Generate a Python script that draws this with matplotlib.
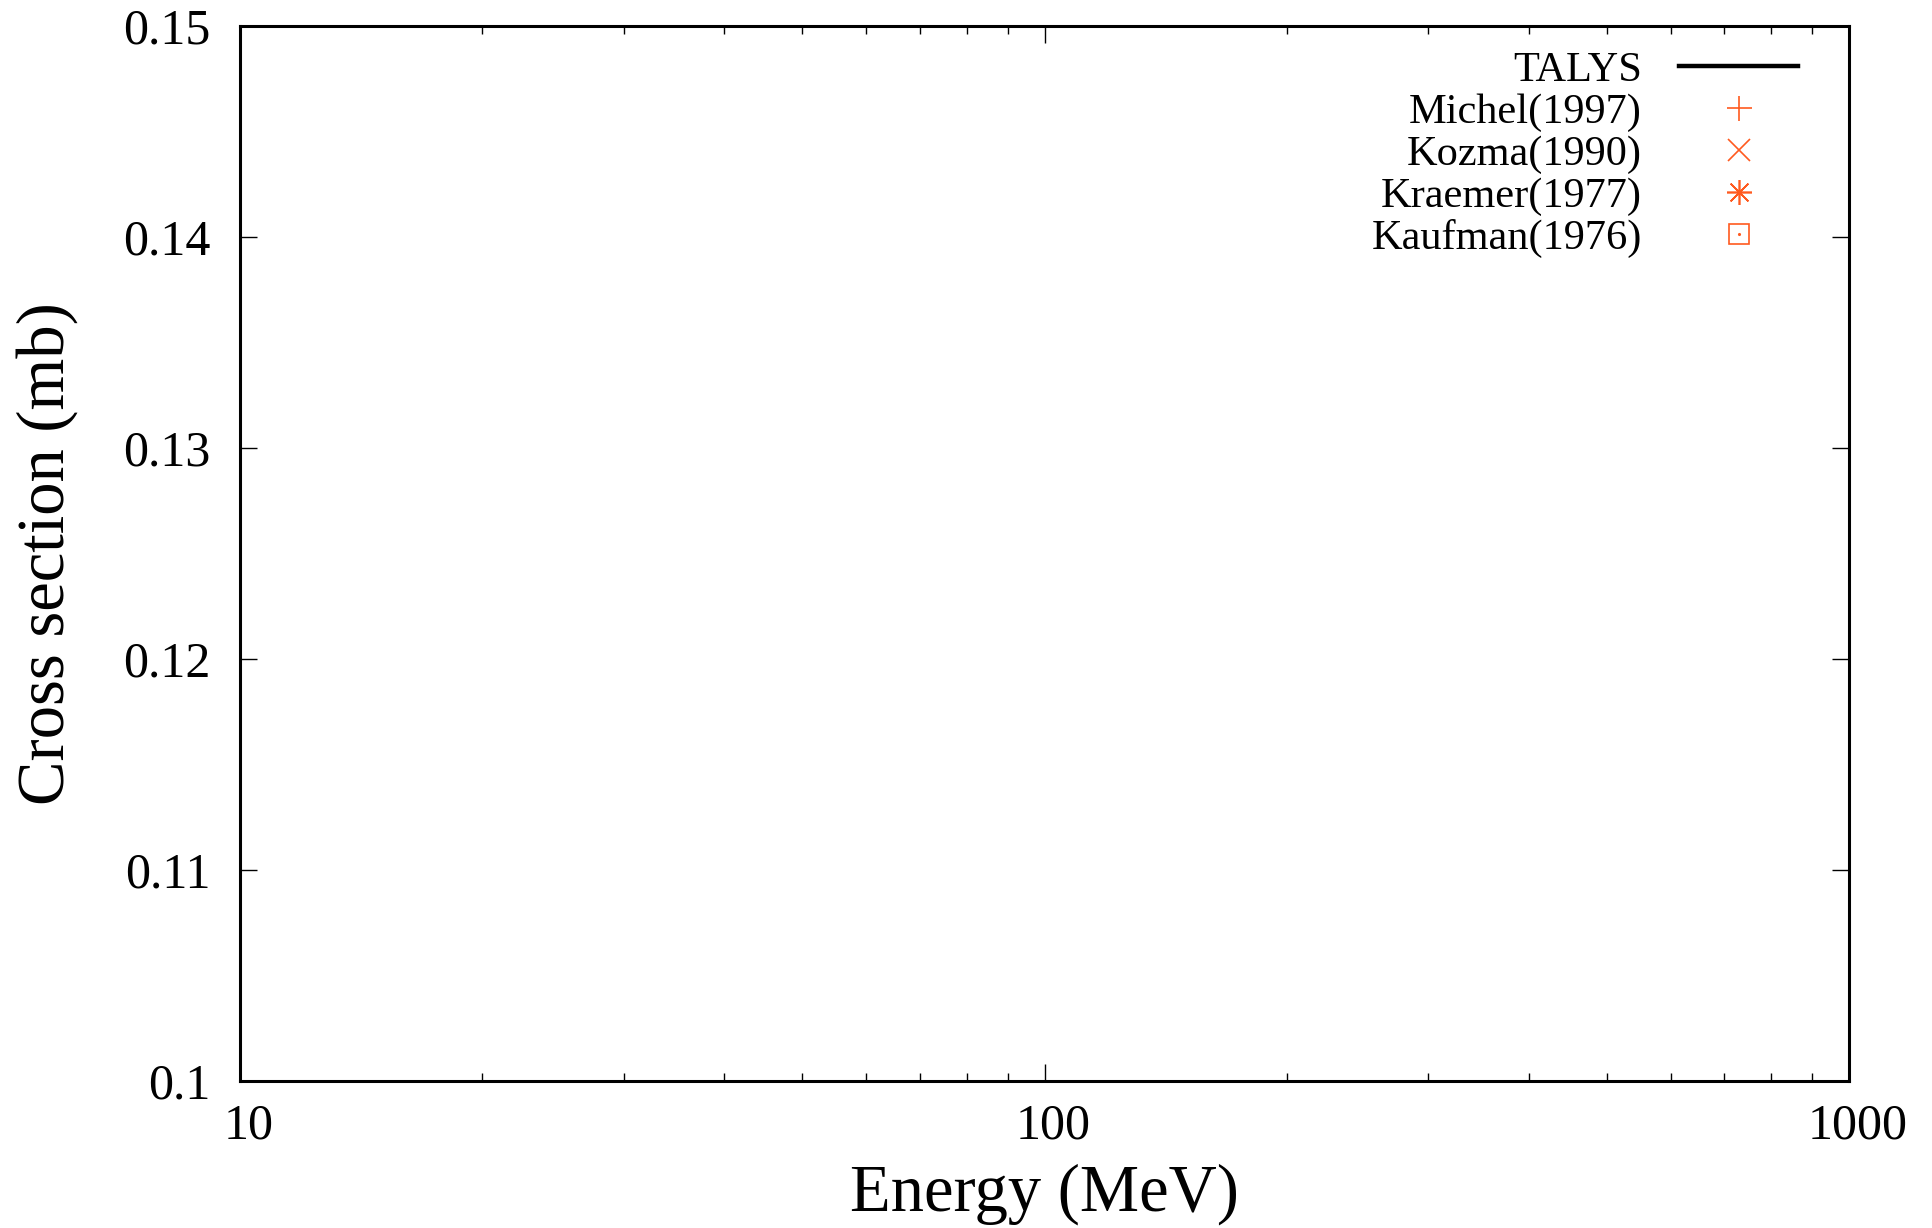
import numpy as np
import matplotlib.pyplot as plt
from matplotlib.transforms import ScaledTranslation
from matplotlib.ticker import FixedLocator, FuncFormatter, LogLocator, NullFormatter

plt.rcParams['font.family'] = ['Liberation Serif', 'DejaVu Serif']

# Data (the reference shows no data points inside the plotted window)
talys_e = []
talys_xs = []
michel_e = []
michel_xs = []
kozma_e = []
kozma_xs = []
kraemer_e = []
kraemer_xs = []
kaufman_e = []
kaufman_xs = []

x_range = [10, 1000]
x_ticks = [10, 100, 1000]
y_range = [0.1, 0.15]
y_ticks = [0.1, 0.11, 0.12, 0.13, 0.14, 0.15]

exp_color = '#ff5a1f'

fig = plt.figure(figsize=(19.33, 12.28), dpi=100)
ax = fig.add_axes([240 / 1933, 1 - 1081 / 1228, (1849 - 240) / 1933, (1081 - 26) / 1228])

l_talys, = ax.plot(talys_e, talys_xs, color='black', lw=3.2, label='TALYS')
l_michel, = ax.plot(michel_e, michel_xs, ls='none', marker='+', ms=18, mew=1.2,
                    color=exp_color, label='Michel(1997)')
l_kozma, = ax.plot(kozma_e, kozma_xs, ls='none', marker='x', ms=16, mew=1.2,
                   color=exp_color, label='Kozma(1990)')
l_kraemer, = ax.plot(kraemer_e, kraemer_xs, ls='none', marker=(8, 2, 0), ms=18, mew=1.2,
                     color=exp_color, label='Kraemer(1977)')
l_kaufman, = ax.plot(kaufman_e, kaufman_xs, ls='none', marker='s', ms=15, mew=1.2,
                     mfc='none', color=exp_color, label='Kaufman(1976)')
l_kaufdot, = ax.plot(kaufman_e, kaufman_xs, ls='none', marker='.', ms=2.5,
                     color=exp_color)

ax.set_xscale('log')
ax.set_xlim(x_range)
ax.set_ylim(y_range)
ax.xaxis.set_major_locator(FixedLocator(x_ticks))
ax.xaxis.set_major_formatter(FuncFormatter(lambda v, p: '%g' % v))
ax.xaxis.set_minor_locator(LogLocator(base=10, subs=np.arange(2, 10)))
ax.xaxis.set_minor_formatter(NullFormatter())
ax.yaxis.set_major_locator(FixedLocator(y_ticks))
ax.yaxis.set_major_formatter(FuncFormatter(lambda v, p: '%g' % round(v, 4)))

ax.tick_params(which='both', direction='in', top=True, right=True, width=1.0,
               labelsize=36, colors='black')
ax.tick_params(which='major', length=12)
ax.tick_params(axis='x', which='major', pad=16)
ax.tick_params(axis='y', which='major', pad=21)
ax.tick_params(which='minor', length=6)
for s in ax.spines.values():
    s.set_linewidth(2.2)

# gnuplot puts the x tick labels a little to the right of the tick
shift = ScaledTranslation(9 / 100, 0, fig.dpi_scale_trans)
for lbl in ax.get_xticklabels():
    lbl.set_transform(lbl.get_transform() + shift)

ax.set_xlabel('Energy (MeV)', fontsize=48, labelpad=10)
ax.set_ylabel('Cross section (mb)', fontsize=48, labelpad=33)

leg = ax.legend([l_talys, l_michel, l_kozma, l_kraemer, (l_kaufman, l_kaufdot)],
                ['TALYS', 'Michel(1997)', 'Kozma(1990)', 'Kraemer(1977)', 'Kaufman(1976)'],
                loc='upper right', frameon=False, markerfirst=False, fontsize=30.5,
                handlelength=2.8, handletextpad=0.88, labelspacing=0.08,
                borderaxespad=0.0, borderpad=0.0,
                bbox_to_anchor=(1 - 51 / 1609, 1 - 25 / 1055))

fig.savefig('out.png', dpi=100)
